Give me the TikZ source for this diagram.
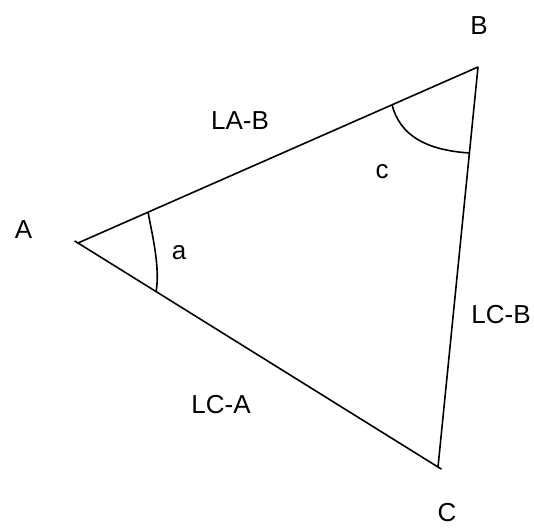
\documentclass[tikz,border=0pt]{standalone}
\usepackage{fontspec}
\setmainfont{Liberation Sans}
\usetikzlibrary{calc}
\begin{document}
\begin{tikzpicture}[x=1bp,y=-1bp,
  edge/.style={line width=1.6bp,line cap=butt},
  lbl/.style={anchor=base,inner sep=0pt,font=\fontsize{26bp}{30bp}\selectfont}]
\useasboundingbox (0,0) rectangle (534,529);
\coordinate (A) at (78,243);
\coordinate (B) at (478,67);
\coordinate (C) at (438,467);
\draw[edge] (A) -- (B);
\draw[edge] (B) -- (C);
\draw[edge,shorten <=-4bp,shorten >=-4bp] (A) -- (C);
\coordinate (a1) at ($(A)!0.175!(B)$);
\coordinate (a2) at ($(A)!0.217!(C)$);
\coordinate (c1) at ($(B)!0.215!(A)$);
\coordinate (c2) at ($(B)!0.215!(C)$);
\draw[edge] (a1) .. controls (153,238) and (160,268) .. (a2);
\draw[edge] (c1) .. controls (400,135) and (425,150) .. (c2);
\node[lbl] (lA) at (23.5,238) {A};
\node[lbl] (lB) at (479,35) {B};
\node[lbl] (lC) at (447,521) {C};
\node[lbl] (la) at (179,259) {a};
\node[lbl] (lc) at (382,179) {c};
\node[lbl] (lAB) at (240,130) {LA-B};
\node[lbl] (lCB) at (501,323) {LC-B};
\node[lbl] (lCA) at (221,413) {LC-A};
\end{tikzpicture}
\end{document}
